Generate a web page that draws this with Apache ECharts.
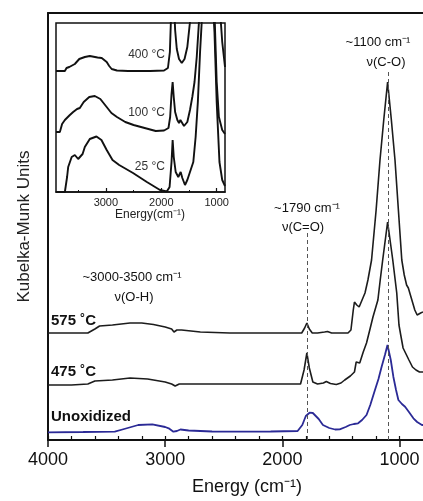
<!DOCTYPE html>
<html>
<head>
<meta charset="utf-8">
<script src="https://cdn.jsdelivr.net/npm/echarts@6/dist/echarts.min.js"></script>
<style>
  html, body { margin: 0; padding: 0; background: #fff; }
  #chart { width: 423px; height: 501px; }
</style>
</head>
<body>
<div id="chart"></div>
<script>
// main spectra: [wavenumber (cm-1), Kubelka-Munk (offset)]
const s575 = [[4000,1.07],[3800,1.07],[3660,1.07],[3600,1.11],[3560,1.14],[3450,1.15],[3300,1.17],[3200,1.17],[3100,1.155],[3000,1.13],[2945,1.11],[2925,1.08],[2900,1.10],[2860,1.10],[2700,1.08],[2450,1.07],[2100,1.07],[1835,1.07],[1810,1.12],[1791,1.17],[1770,1.11],[1745,1.07],[1700,1.07],[1640,1.08],[1615,1.085],[1580,1.07],[1440,1.07],[1415,1.10],[1395,1.30],[1385,1.38],[1365,1.35],[1345,1.33],[1320,1.40],[1295,1.47],[1270,1.60],[1239,1.80],[1200,2.30],[1167,2.80],[1135,3.20],[1102,3.58],[1070,3.20],[1039,2.80],[1010,2.30],[981,1.80],[960,1.65],[940,1.55],[925,1.52],[900,1.42],[870,1.30],[850,1.25],[820,1.27],[800,1.28]];
const s475 = [[4000,0.55],[3800,0.55],[3660,0.56],[3600,0.59],[3450,0.60],[3300,0.62],[3150,0.61],[3000,0.58],[2945,0.56],[2915,0.54],[2880,0.56],[2700,0.56],[2450,0.56],[2100,0.56],[1845,0.56],[1815,0.70],[1791,0.87],[1770,0.72],[1740,0.58],[1700,0.56],[1650,0.57],[1625,0.585],[1590,0.565],[1540,0.555],[1500,0.57],[1468,0.60],[1420,0.64],[1385,0.68],[1370,0.78],[1355,0.78],[1340,0.77],[1310,0.88],[1282,0.97],[1250,1.12],[1227,1.23],[1185,1.40],[1165,1.60],[1144,1.80],[1102,2.18],[1058,1.80],[1024,1.47],[1005,1.15],[990,1.05],[970,0.92],[945,0.86],[920,0.80],[890,0.73],[860,0.70],[830,0.68],[800,0.68]];
const sUnox = [[4000,0.077],[3700,0.08],[3430,0.083],[3350,0.11],[3230,0.15],[3110,0.157],[3000,0.13],[2970,0.117],[2930,0.083],[2900,0.09],[2870,0.105],[2800,0.095],[2600,0.085],[2450,0.083],[2100,0.085],[1870,0.09],[1830,0.15],[1800,0.24],[1768,0.273],[1740,0.27],[1725,0.265],[1690,0.21],[1654,0.15],[1600,0.12],[1550,0.105],[1511,0.107],[1460,0.13],[1425,0.15],[1390,0.16],[1354,0.167],[1320,0.20],[1282,0.25],[1250,0.35],[1210,0.50],[1180,0.61],[1153,0.733],[1125,0.85],[1103,0.95],[1075,0.80],[1053,0.633],[1030,0.50],[1010,0.40],[980,0.36],[953,0.333],[920,0.28],[882,0.217],[850,0.18],[809,0.15],[800,0.15]];

// inset spectra
const i400 = [[3900,1.21],[3740,1.21],[3710,1.24],[3690,1.22],[3660,1.25],[3630,1.23],[3560,1.28],[3480,1.33],[3380,1.35],[3290,1.36],[3150,1.345],[3075,1.34],[2985,1.30],[2940,1.26],[2895,1.23],[2800,1.215],[2600,1.21],[2200,1.21],[1950,1.215],[1880,1.24],[1845,1.40],[1815,1.90],[1795,2.30],[1775,1.95],[1750,1.62],[1720,1.43],[1680,1.33],[1630,1.29],[1580,1.33],[1530,1.45],[1482,1.70],[1430,2.10],[1300,2.60],[1100,3.20],[1000,2.40],[950,1.90],[900,1.50],[850,1.25]];
const i100 = [[3900,0.60],[3830,0.60],[3790,0.68],[3740,0.72],[3650,0.77],[3590,0.80],[3520,0.83],[3470,0.84],[3400,0.90],[3300,0.95],[3200,0.96],[3100,0.93],[3000,0.86],[2900,0.79],[2800,0.75],[2650,0.70],[2500,0.67],[2300,0.64],[2100,0.61],[1950,0.615],[1870,0.64],[1840,0.75],[1815,0.98],[1795,1.10],[1775,0.95],[1750,0.80],[1710,0.72],[1680,0.69],[1655,0.72],[1630,0.70],[1590,0.66],[1570,0.64],[1530,0.70],[1482,0.82],[1440,0.95],[1400,1.10],[1360,1.35],[1320,1.70],[1250,2.20],[1100,2.80],[1040,1.80],[1000,1.10],[960,0.75],[900,0.62],[850,0.58]];
const i25 = [[3900,0.0],[3740,0.0],[3700,0.15],[3680,0.25],[3617,0.35],[3560,0.37],[3500,0.33],[3470,0.31],[3420,0.38],[3380,0.45],[3290,0.53],[3170,0.555],[3080,0.52],[2985,0.42],[2880,0.32],[2760,0.27],[2510,0.19],[2260,0.10],[2023,0.02],[1900,0.005],[1850,0.05],[1815,0.30],[1795,0.52],[1775,0.35],[1740,0.20],[1693,0.15],[1650,0.20],[1620,0.14],[1572,0.07],[1530,0.12],[1482,0.20],[1422,0.30],[1380,0.55],[1340,0.90],[1300,1.40],[1250,1.90],[1100,2.20],[1040,1.60],[1000,0.90],[950,0.30],[900,0.12],[850,0.06]];

// dashed guides: [wavenumber, top]
const guides = [[1790,2.10],[1100,3.70]];

const mainTicks = [1000,2000,3000,4000];
const minorTicks = [1000,1200,1400,1600,1800,2000,2200,2400,2600,2800,3000,3200,3400,3600,3800,4000];
const insetTicks = [1000,2000,3000];
const insetMinor = [1500,2500,3500];

const font = 'Liberation Sans, Arial, Helvetica, sans-serif';
const ink = '#111';
const plain = v => String(v);

var myChart = echarts.init(document.getElementById('chart'), null, { renderer: 'canvas' });

function line(name, data, color, width, xi, yi) {
    return {
        name: name, type: 'line', data: data,
        xAxisIndex: xi, yAxisIndex: yi,
        symbol: 'none', smooth: false, clip: true,
        lineStyle: { color: color, width: width },
        silent: true
    };
}

var unox = line('Unoxidized', sUnox, '#2b2a96', 1.8, 0, 0);
unox.markLine = {
    symbol: 'none', silent: true,
    label: { show: false },
    lineStyle: { type: [4, 3], color: '#555', width: 1 },
    data: guides.map(g => [{ coord: [g[0], 0] }, { coord: [g[0], g[1]] }])
};

var option = {
    animation: false,
    textStyle: { fontFamily: font, color: ink },
    grid: [
        { left: 48, right: 0, top: 13, bottom: 61, containLabel: false, outerBoundsMode: 'none' },
        { left: 56, top: 23, width: 169, height: 169, containLabel: false, outerBoundsMode: 'none',
          show: true, borderColor: ink, borderWidth: 1.5, backgroundColor: '#fff' }
    ],
    xAxis: [
        {
            gridIndex: 0, type: 'value', position: 'bottom', inverse: true, min: 800, max: 4000,
            axisLine: { lineStyle: { color: ink, width: 2 } },
            axisTick: { customValues: mainTicks, length: 7, lineStyle: { color: ink, width: 1.5 } },
            axisLabel: { customValues: mainTicks, formatter: plain, fontSize: 18, color: ink, margin: 11, fontFamily: font },
            splitLine: { show: false },
            name: 'Energy (cm⁻¹)', nameLocation: 'middle', nameGap: 38,
            nameTextStyle: { fontSize: 18, color: ink, padding: [0, 0, 0, 23], fontFamily: font }
        },
        {
            gridIndex: 0, type: 'value', position: 'bottom', inverse: true, min: 800, max: 4000,
            axisLine: { show: false },
            axisTick: { customValues: minorTicks, inside: true, length: 4, lineStyle: { color: ink, width: 1.2 } },
            axisLabel: { show: false }, splitLine: { show: false }
        },
        {
            gridIndex: 0, type: 'value', position: 'top', inverse: true, min: 800, max: 4000,
            axisLine: { lineStyle: { color: ink, width: 2 } },
            axisTick: { show: false }, axisLabel: { show: false }, splitLine: { show: false }
        },
        {
            gridIndex: 1, type: 'value', position: 'bottom', inverse: true, min: 850, max: 3900,
            axisLine: { lineStyle: { color: ink, width: 1.5 } },
            axisTick: { customValues: insetTicks, inside: true, length: 4, lineStyle: { color: ink, width: 1.2 } },
            axisLabel: { customValues: insetTicks, formatter: plain, fontSize: 11, color: '#222', margin: 5, fontFamily: font },
            splitLine: { show: false },
            name: 'Energy(cm⁻¹)', nameLocation: 'middle', nameGap: 14,
            nameTextStyle: { fontSize: 12, color: '#222', padding: [0, 0, 0, 19], fontFamily: font }
        },
        {
            gridIndex: 1, type: 'value', position: 'bottom', inverse: true, min: 850, max: 3900,
            axisLine: { show: false },
            axisTick: { customValues: insetMinor, inside: true, length: 2, lineStyle: { color: ink, width: 1 } },
            axisLabel: { show: false }, splitLine: { show: false }
        }
    ],
    yAxis: [
        {
            gridIndex: 0, type: 'value', min: 0, max: 4.27,
            axisLine: { show: true, lineStyle: { color: ink, width: 2 } },
            axisTick: { show: false }, axisLabel: { show: false }, splitLine: { show: false },
            name: 'Kubelka-Munk Units', nameLocation: 'middle', nameGap: 15,
            nameTextStyle: { fontSize: 17, color: '#222', fontFamily: font }
        },
        {
            gridIndex: 1, type: 'value', min: 0, max: 1.69,
            axisLine: { show: false }, axisTick: { show: false }, axisLabel: { show: false }, splitLine: { show: false }
        }
    ],
    series: [
        line('575 ˚C', s575, '#1c1c1c', 1.6, 0, 0),
        line('475 ˚C', s475, '#1c1c1c', 1.6, 0, 0),
        unox,
        line('400 °C', i400, ink, 1.9, 3, 1),
        line('100 °C', i100, ink, 1.9, 3, 1),
        line('25 °C', i25, ink, 1.9, 3, 1)
    ],
    graphic: [
        { type: 'text', x: 378, y: 42, style: { text: '~1100 cm⁻¹', fontSize: 13, fontFamily: font, fill: ink, align: 'center', verticalAlign: 'middle' } },
        { type: 'text', x: 386, y: 62, style: { text: 'ν(C-O)', fontSize: 13, fontFamily: font, fill: ink, align: 'center', verticalAlign: 'middle' } },
        { type: 'text', x: 307, y: 208, style: { text: '~1790 cm⁻¹', fontSize: 13, fontFamily: font, fill: ink, align: 'center', verticalAlign: 'middle' } },
        { type: 'text', x: 303, y: 227, style: { text: 'ν(C=O)', fontSize: 13, fontFamily: font, fill: ink, align: 'center', verticalAlign: 'middle' } },
        { type: 'text', x: 132, y: 277, style: { text: '~3000-3500 cm⁻¹', fontSize: 13, fontFamily: font, fill: ink, align: 'center', verticalAlign: 'middle' } },
        { type: 'text', x: 134, y: 297, style: { text: 'ν(O-H)', fontSize: 13, fontFamily: font, fill: ink, align: 'center', verticalAlign: 'middle' } },
        { type: 'text', x: 51, y: 321, style: { text: '575 ˚C', fontSize: 15, fontWeight: 'bold', fontFamily: font, fill: ink, align: 'left', verticalAlign: 'middle' } },
        { type: 'text', x: 51, y: 372, style: { text: '475 ˚C', fontSize: 15, fontWeight: 'bold', fontFamily: font, fill: ink, align: 'left', verticalAlign: 'middle' } },
        { type: 'text', x: 51, y: 417, style: { text: 'Unoxidized', fontSize: 15, fontWeight: 'bold', fontFamily: font, fill: ink, align: 'left', verticalAlign: 'middle' } },
        { type: 'text', x: 165, y: 55, z: 10, style: { text: '400 °C', fontSize: 12, fontFamily: font, fill: '#333', align: 'right', verticalAlign: 'middle' } },
        { type: 'text', x: 165, y: 113, z: 10, style: { text: '100 °C', fontSize: 12, fontFamily: font, fill: '#333', align: 'right', verticalAlign: 'middle' } },
        { type: 'text', x: 165, y: 167, z: 10, style: { text: '25 °C', fontSize: 12, fontFamily: font, fill: '#333', align: 'right', verticalAlign: 'middle' } }
    ]
};
myChart.setOption(option);
</script>
</body>
</html>
